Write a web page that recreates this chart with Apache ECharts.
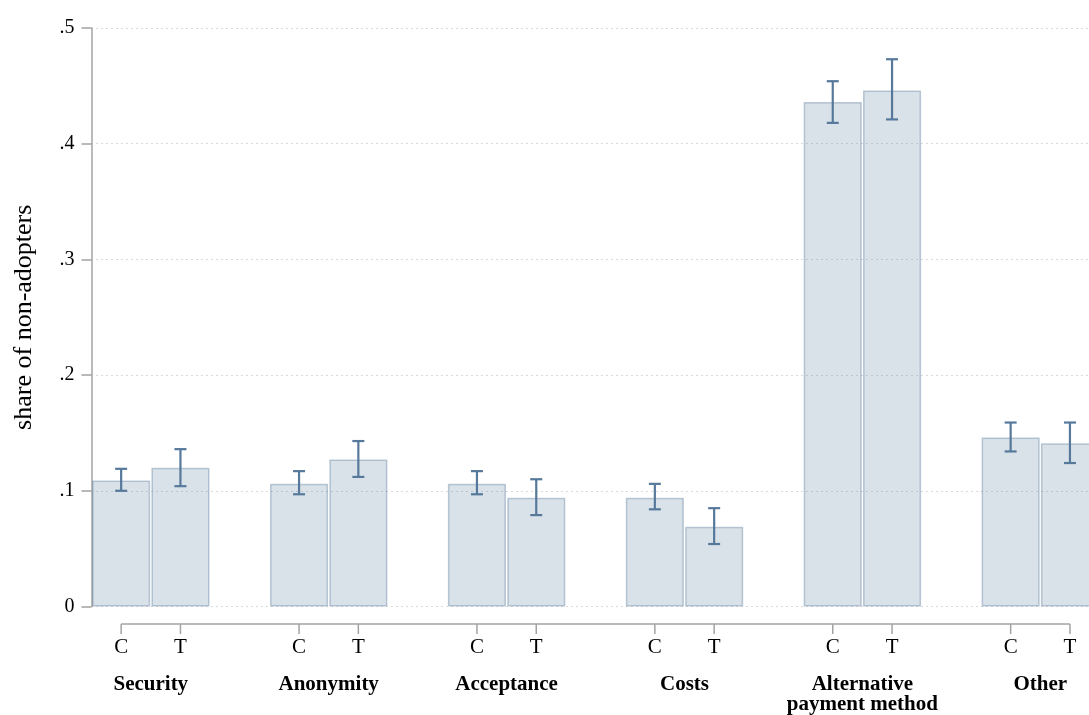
<!DOCTYPE html>
<html>
<head>
<meta charset="utf-8">
<script src="https://cdn.jsdelivr.net/npm/echarts@6/dist/echarts.min.js"></script>
<style>
  html, body { margin: 0; padding: 0; background: #fff; }
  #chart { width: 1089px; height: 715px; }
</style>
</head>
<body>
<div id="chart"></div>
<script>
// Reasons for not adopting, by experimental arm (C = control, T = treatment)
const groups = ['Security', 'Anonymity', 'Acceptance', 'Costs', 'Alternative\npayment method', 'Other'];
const arms = ['C', 'T'];

const controlShare = [0.109, 0.106, 0.106, 0.094, 0.436, 0.146];
const controlLow   = [0.100, 0.097, 0.097, 0.084, 0.418, 0.134];
const controlHigh  = [0.119, 0.117, 0.117, 0.106, 0.454, 0.159];

const treatShare = [0.120, 0.127, 0.094, 0.069, 0.446, 0.141];
const treatLow   = [0.104, 0.112, 0.079, 0.054, 0.421, 0.124];
const treatHigh  = [0.136, 0.143, 0.110, 0.085, 0.473, 0.159];

const yTicks = [0, 0.1, 0.2, 0.3, 0.4, 0.5];

// Each group takes three slots on the axis: C, T and an empty spacer
const slotsPerGroup = 3;
const slotLabels = [];
const barData = [];
const ciData = [];
const tickSlots = [];
groups.forEach((g, i) => {
  slotLabels.push(arms[0], arms[1], '');
  barData.push(controlShare[i], treatShare[i], '-');
  ciData.push([i * slotsPerGroup, controlLow[i], controlHigh[i]]);
  ciData.push([i * slotsPerGroup + 1, treatLow[i], treatHigh[i]]);
  tickSlots.push(i * slotsPerGroup, i * slotsPerGroup + 1);
});

const serif = '"Liberation Serif", "Times New Roman", Times, serif';
const axisGrey = '#a3a3a3';
const ciColor = '#56799b';
const axisDrop = 17.5;
const tickLen = 10;

const chart = echarts.init(document.getElementById('chart'), null, { renderer: 'canvas' });

chart.setOption({
  animation: false,
  backgroundColor: '#ffffff',
  grid: {
    left: 91.5, top: 28, width: 59.3 * slotLabels.length, height: 578.5,
    containLabel: false, outerBoundsMode: 'none'
  },
  xAxis: [
    {
      type: 'category',
      data: slotLabels,
      position: 'bottom',
      offset: axisDrop,
      boundaryGap: true,
      axisLine: { show: false },
      axisTick: { show: false },
      axisLabel: {
        interval: 0,
        margin: 13,
        fontFamily: serif,
        fontSize: 21,
        color: '#000'
      },
      splitLine: { show: false }
    },
    {
      type: 'value',
      min: 0,
      max: slotLabels.length,
      interval: 1,
      position: 'bottom',
      offset: axisDrop,
      axisLine: { show: false },
      axisTick: { show: false },
      splitLine: { show: false },
      axisLabel: {
        margin: 51,
        fontFamily: serif,
        fontSize: 21,
        fontWeight: 'bold',
        lineHeight: 20,
        color: '#000',
        showMinLabel: true,
        showMaxLabel: true,
        formatter: (v) => {
          const k = Math.round(v);
          return (k - 1) % slotsPerGroup === 0 ? groups[(k - 1) / slotsPerGroup] : '';
        }
      }
    }
  ],
  yAxis: {
    type: 'value',
    min: yTicks[0],
    max: yTicks[yTicks.length - 1],
    interval: 0.1,
    name: 'share of non-adopters',
    nameLocation: 'middle',
    nameGap: 54,
    nameTextStyle: { fontFamily: serif, fontSize: 26, color: '#000' },
    axisLine: { show: true, lineStyle: { color: axisGrey, width: 1.5 } },
    axisTick: { show: true, inside: false, length: tickLen, lineStyle: { color: axisGrey, width: 1.5 } },
    axisLabel: {
      margin: 17,
      fontFamily: serif,
      fontSize: 20,
      color: '#000',
      formatter: (v) => (v === 0 ? '0' : v.toFixed(1).replace(/^0/, ''))
    },
    splitLine: { show: true, lineStyle: { color: '#b4b4b4', width: 1, type: [1, 4] } }
  },
  series: [
    {
      type: 'bar',
      xAxisIndex: 0,
      data: barData,
      barCategoryGap: '2%',
      itemStyle: {
        color: 'rgba(60,100,140,0.19)',
        borderColor: 'rgba(60,100,140,0.32)',
        borderWidth: 1.5
      }
    },
    {
      // confidence intervals
      type: 'custom',
      xAxisIndex: 0,
      data: ciData,
      encode: { x: 0, y: [1, 2] },
      clip: false,
      z: 5,
      renderItem: (params, api) => {
        const lo = api.coord([api.value(0), api.value(1)]);
        const hi = api.coord([api.value(0), api.value(2)]);
        const half = 6;
        const style = { stroke: ciColor, lineWidth: 2.2, fill: null };
        return {
          type: 'group',
          children: [
            { type: 'line', shape: { x1: lo[0], y1: lo[1], x2: hi[0], y2: hi[1] }, style },
            { type: 'line', shape: { x1: hi[0] - half, y1: hi[1], x2: hi[0] + half, y2: hi[1] }, style },
            { type: 'line', shape: { x1: lo[0] - half, y1: lo[1], x2: lo[0] + half, y2: lo[1] }, style }
          ]
        };
      }
    },
    {
      // x axis baseline from the first to the last labelled slot, with a tick under each bar
      type: 'custom',
      xAxisIndex: 0,
      data: [[tickSlots[0], tickSlots[tickSlots.length - 1]]],
      encode: { x: [0, 1] },
      clip: false,
      silent: true,
      renderItem: (params, api) => {
        const a = api.coord([api.value(0), 0]);
        const b = api.coord([api.value(1), 0]);
        const y = a[1] + axisDrop;
        const style = { stroke: axisGrey, lineWidth: 1.5 };
        const children = [{ type: 'line', shape: { x1: a[0], y1: y, x2: b[0], y2: y }, style }];
        tickSlots.forEach((s) => {
          const p = api.coord([s, 0]);
          children.push({ type: 'line', shape: { x1: p[0], y1: y, x2: p[0], y2: y + tickLen }, style });
        });
        return { type: 'group', children };
      }
    }
  ]
});
</script>
</body>
</html>
